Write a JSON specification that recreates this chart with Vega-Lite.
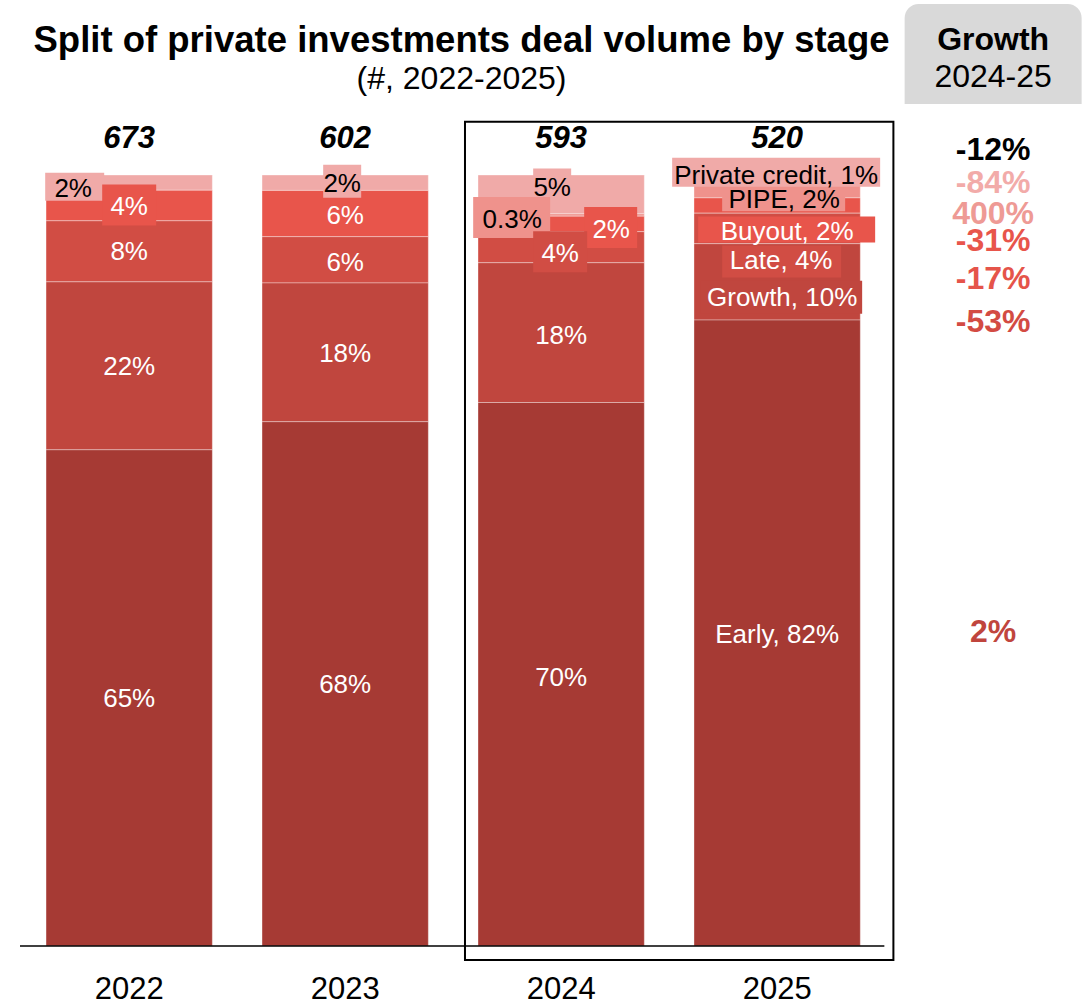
{
  "$schema": "https://vega.github.io/schema/vega-lite/v6.json",
  "width": 1069,
  "height": 771,
  "autosize": {"type": "none"},
  "padding": {"left": 20, "top": 175, "right": 0, "bottom": 59},
  "background": "white",
  "title": {
    "text": "Split of private investments deal volume by stage",
    "subtitle": "(#, 2022-2025)",
    "anchor": "middle",
    "frame": "group",
    "dx": -93,
    "offset": -91,
    "font": "Liberation Sans",
    "fontSize": 36.5,
    "fontWeight": "bold",
    "color": "black",
    "subtitleFont": "Liberation Sans",
    "subtitleFontSize": 32,
    "subtitleFontWeight": "normal",
    "subtitleColor": "black",
    "subtitlePadding": 4
  },
  "config": {
    "view": {"stroke": null},
    "font": "Liberation Sans",
    "locale": {"number": {"decimal": ".", "thousands": ",", "grouping": [3], "currency": ["$", ""], "minus": "-"}}
  },
  "params": [
    {"name": "lblx", "expr": "({'2022 Private credit': -56, '2023 Private credit': -3, '2024 Private credit': -9, '2024 PIPE': -49, '2024 Buyout': 50, '2024 Late': -1, '2025 Private credit': -1, '2025 PIPE': 7, '2025 Buyout': 10, '2025 Late': 4, '2025 Growth': 5})"},
    {"name": "lbly", "expr": "({'2022 Private credit': 5, '2022 Late': -1, '2023 Late': 2, '2023 Buyout': 1, '2024 Private credit': -8, '2024 PIPE': 4, '2024 Buyout': 5, '2024 Late': 5, '2024 Growth': 2, '2024 Early': 2, '2025 Private credit': -4, '2025 PIPE': 8, '2025 Buyout': 25, '2025 Late': 31, '2025 Growth': 15})"},
    {"name": "boxes", "expr": "({'2022 Private credit': 'M-84,-10H-25V18H-84Z', '2022 Buyout': 'M-27,-21H27V20H-27Z', '2023 Private credit': 'M-22,-18H16V15H-22Z', '2024 Private credit': 'M-28,-26H10V11H-28Z', '2024 PIPE': 'M-88,-18H-11V23H-88Z', '2024 Buyout': 'M23,-17H76V24H23Z', '2024 Late': 'M-28,-16H26V25H-28Z', '2025 Private credit': 'M-105,-21H103V8H-105Z', '2025 PIPE': 'M-55,-3H68V21H-55Z', '2025 Buyout': 'M-79,11H98V37H-79Z', '2025 Late': 'M-55,17H64V49H-55Z', '2025 Growth': 'M-77,-1H85V32H-77Z'})"},
    {"name": "gy", "expr": "({'Total': -25, 'Private credit': 8, 'PIPE': 39, 'Buyout': 66, 'Late': 104, 'Growth': 147, 'Early': 457})"}
  ],
  "datasets": {
    "segments": [
      {"year": "2022", "stage": "Private credit", "share": 2, "label": "2%"},
      {"year": "2022", "stage": "Buyout", "share": 4, "label": "4%"},
      {"year": "2022", "stage": "Late", "share": 8, "label": "8%"},
      {"year": "2022", "stage": "Growth", "share": 22, "label": "22%"},
      {"year": "2022", "stage": "Early", "share": 65, "label": "65%"},
      {"year": "2023", "stage": "Private credit", "share": 2, "label": "2%"},
      {"year": "2023", "stage": "Buyout", "share": 6, "label": "6%"},
      {"year": "2023", "stage": "Late", "share": 6, "label": "6%"},
      {"year": "2023", "stage": "Growth", "share": 18, "label": "18%"},
      {"year": "2023", "stage": "Early", "share": 68, "label": "68%"},
      {"year": "2024", "stage": "Private credit", "share": 5, "label": "5%"},
      {"year": "2024", "stage": "PIPE", "share": 0.3, "label": "0.3%"},
      {"year": "2024", "stage": "Buyout", "share": 2, "label": "2%"},
      {"year": "2024", "stage": "Late", "share": 4, "label": "4%"},
      {"year": "2024", "stage": "Growth", "share": 18, "label": "18%"},
      {"year": "2024", "stage": "Early", "share": 70, "label": "70%"},
      {"year": "2025", "stage": "Private credit", "share": 1, "label": "Private credit, 1%"},
      {"year": "2025", "stage": "PIPE", "share": 2, "label": "PIPE, 2%"},
      {"year": "2025", "stage": "Buyout", "share": 2, "label": "Buyout, 2%"},
      {"year": "2025", "stage": "Late", "share": 4, "label": "Late, 4%"},
      {"year": "2025", "stage": "Growth", "share": 10, "label": "Growth, 10%"},
      {"year": "2025", "stage": "Early", "share": 82, "label": "Early, 82%"}
    ],
    "totals": [
      {"year": "2022", "deals": 673},
      {"year": "2023", "deals": 602},
      {"year": "2024", "deals": 593},
      {"year": "2025", "deals": 520}
    ],
    "growth": [
      {"stage": "Total", "growth": -0.12},
      {"stage": "Private credit", "growth": -0.84},
      {"stage": "PIPE", "growth": 4.0},
      {"stage": "Buyout", "growth": -0.31},
      {"stage": "Late", "growth": -0.17},
      {"stage": "Growth", "growth": -0.53},
      {"stage": "Early", "growth": 0.02}
    ]
  },
  "layer": [
    {
      "data": {"name": "segments"},
      "transform": [
        {"calculate": "indexof(['Early','Growth','Late','Buyout','PIPE','Private credit'], datum.stage)", "as": "rank"},
        {"stack": "share", "groupby": ["year"], "sort": [{"field": "rank", "order": "ascending"}], "offset": "normalize", "as": ["y0", "y1"]}
      ],
      "mark": {"type": "bar", "stroke": "white", "strokeWidth": 1, "strokeOpacity": 0.35},
      "encoding": {
        "x": {
          "field": "year", "type": "nominal",
          "scale": {"domain": ["2022", "2023", "2024", "2025", "G"], "paddingInner": 0.23, "paddingOuter": 0.0897, "align": 0.672},
          "axis": {"title": null, "domain": false, "ticks": false, "tickSize": 0, "grid": false, "labelAngle": 0, "labelFont": "Liberation Sans", "labelFontSize": 31, "labelColor": "black", "labelPadding": 28, "labelExpr": "datum.value == 'G' ? '' : datum.value"}
        },
        "y": {"field": "y0", "type": "quantitative", "scale": {"domain": [0, 1], "nice": false, "zero": true}, "axis": null},
        "y2": {"field": "y1"},
        "color": {
          "field": "stage", "type": "nominal",
          "scale": {"domain": ["Early", "Growth", "Late", "Buyout", "PIPE", "Private credit"], "range": ["#A63A34", "#C0463E", "#D14D44", "#E8554B", "#EF928C", "#F0AAA8"]},
          "legend": null
        }
      }
    },
    {
      "data": {"name": "segments"},
      "transform": [
        {"calculate": "indexof(['Early','Growth','Late','Buyout','PIPE','Private credit'], datum.stage)", "as": "rank"},
        {"stack": "share", "groupby": ["year"], "sort": [{"field": "rank", "order": "ascending"}], "offset": "normalize", "as": ["y0", "y1"]},
        {"calculate": "(datum.y0 + datum.y1) / 2", "as": "ymid"},
        {"filter": "isValid(boxes[datum.year + ' ' + datum.stage])"}
      ],
      "mark": {"type": "point", "filled": true, "opacity": 1, "size": 4, "strokeWidth": 0, "shape": {"expr": "boxes[datum.year + ' ' + datum.stage]"}},
      "encoding": {
        "x": {"field": "year", "type": "nominal"},
        "y": {"field": "ymid", "type": "quantitative"},
        "color": {"field": "stage", "type": "nominal"}
      }
    },
    {
      "data": {"name": "segments"},
      "transform": [
        {"calculate": "indexof(['Early','Growth','Late','Buyout','PIPE','Private credit'], datum.stage)", "as": "rank"},
        {"stack": "share", "groupby": ["year"], "sort": [{"field": "rank", "order": "ascending"}], "offset": "normalize", "as": ["y0", "y1"]},
        {"calculate": "(datum.y0 + datum.y1) / 2", "as": "ymid"}
      ],
      "mark": {
        "type": "text", "font": "Liberation Sans", "fontSize": 26, "align": "center", "baseline": "middle",
        "dx": {"expr": "lblx[datum.year + ' ' + datum.stage] || 0"},
        "dy": {"expr": "(lbly[datum.year + ' ' + datum.stage] || 0) + 1.5"}
      },
      "encoding": {
        "x": {"field": "year", "type": "nominal"},
        "y": {"field": "ymid", "type": "quantitative"},
        "text": {"field": "label", "type": "nominal"},
        "color": {"condition": {"test": "datum.stage == 'Private credit' || datum.stage == 'PIPE'", "value": "black"}, "value": "white"}
      }
    },
    {
      "data": {"name": "totals"},
      "mark": {"type": "text", "font": "Liberation Sans", "fontSize": 31, "fontWeight": "bold", "fontStyle": "italic", "align": "center", "baseline": "middle", "dy": -36, "color": "black"},
      "encoding": {
        "x": {"field": "year", "type": "nominal"},
        "y": {"datum": 1, "type": "quantitative"},
        "text": {"field": "deals", "type": "quantitative", "format": "d"}
      }
    },
    {
      "data": {"values": [{}]},
      "mark": {"type": "rule", "color": "black", "strokeWidth": 1.5},
      "encoding": {
        "x": {"datum": "2022", "type": "nominal", "bandPosition": -0.1566},
        "x2": {"datum": "2025", "bandPosition": 1.1446},
        "y": {"datum": 0, "type": "quantitative"}
      }
    },
    {
      "data": {"values": [{}]},
      "mark": {"type": "rect", "fill": "white", "fillOpacity": 0, "stroke": "black", "strokeWidth": 2},
      "encoding": {
        "x": {"datum": "2024", "type": "nominal", "bandPosition": -0.0783},
        "x2": {"datum": "2025", "bandPosition": 1.199},
        "y": {"datum": 1.069, "type": "quantitative"},
        "y2": {"datum": -0.018}
      }
    },
    {
      "data": {"values": [{}]},
      "mark": {"type": "bar", "width": 177, "color": "#D9D9D9", "cornerRadiusTopLeft": 14, "cornerRadiusTopRight": 14},
      "encoding": {
        "x": {"datum": "G", "type": "nominal"},
        "y": {"datum": 1.2218, "type": "quantitative"},
        "y2": {"datum": 1.0921}
      }
    },
    {
      "data": {"values": [{"head": "Growth", "period": "2024-25"}]},
      "mark": {"type": "text", "font": "Liberation Sans", "fontSize": 32, "fontWeight": "bold", "align": "center", "baseline": "middle", "color": "black"},
      "encoding": {
        "x": {"datum": "G", "type": "nominal"},
        "y": {"datum": 1.1751, "type": "quantitative"},
        "text": {"field": "head", "type": "nominal"}
      }
    },
    {
      "data": {"values": [{"head": "Growth", "period": "2024-25"}]},
      "mark": {"type": "text", "font": "Liberation Sans", "fontSize": 32, "fontWeight": "normal", "align": "center", "baseline": "middle", "color": "black"},
      "encoding": {
        "x": {"datum": "G", "type": "nominal"},
        "y": {"datum": 1.1271, "type": "quantitative"},
        "text": {"field": "period", "type": "nominal"}
      }
    },
    {
      "data": {"name": "growth"},
      "mark": {"type": "text", "font": "Liberation Sans", "fontSize": 32, "fontWeight": "bold", "align": "center", "baseline": "middle", "dy": {"expr": "gy[datum.stage]"}},
      "encoding": {
        "x": {"datum": "G", "type": "nominal"},
        "y": {"datum": 1, "type": "quantitative"},
        "text": {"field": "growth", "type": "quantitative", "format": ".0%"},
        "color": {
          "condition": [
            {"test": "datum.stage == 'Private credit'", "value": "#F2ABA9"},
            {"test": "datum.stage == 'PIPE'", "value": "#EE9A95"},
            {"test": "datum.stage == 'Buyout'", "value": "#E8554B"},
            {"test": "datum.stage == 'Late'", "value": "#E5544A"},
            {"test": "datum.stage == 'Growth'", "value": "#D34B43"},
            {"test": "datum.stage == 'Early'", "value": "#C0453D"}
          ],
          "value": "black"
        }
      }
    }
  ]
}
